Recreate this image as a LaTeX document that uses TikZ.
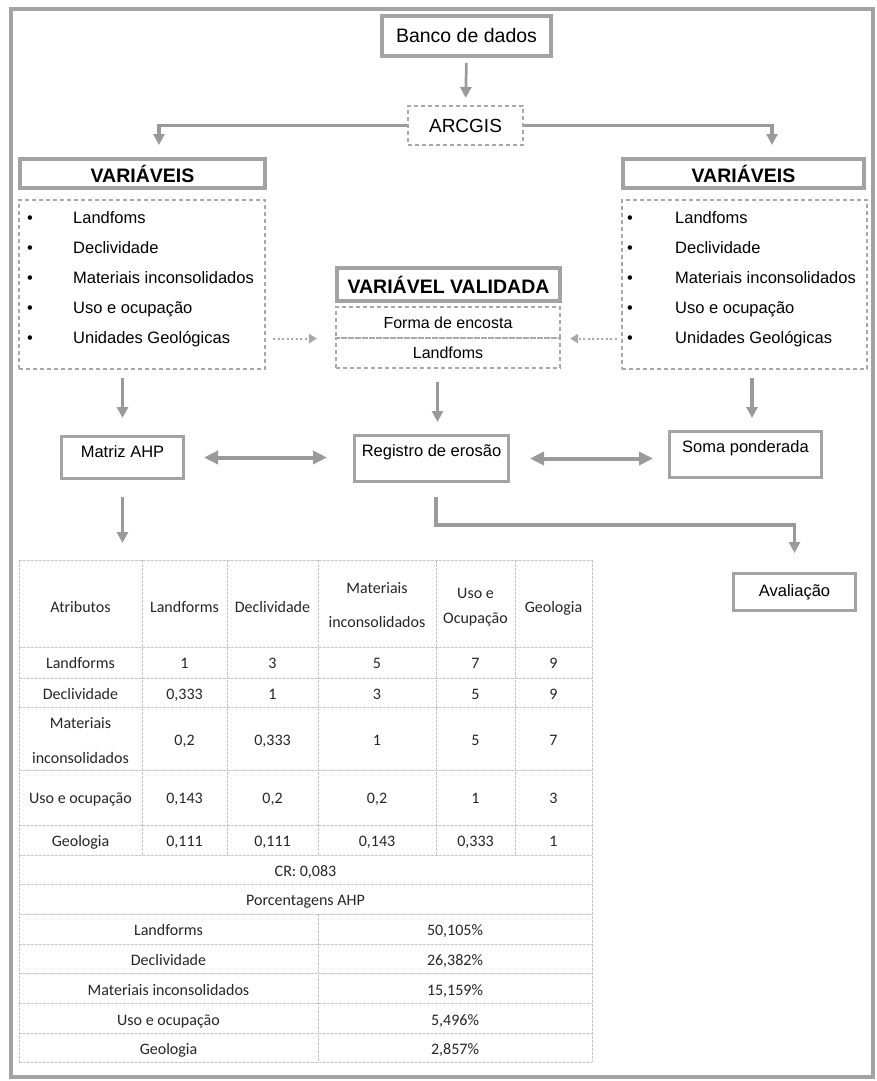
\documentclass[tikz,border=0pt]{standalone}
\usepackage{fontspec}
\setmainfont{Liberation Sans}
\newfontfamily\calib{Carlito}
\usetikzlibrary{arrows.meta,calc}
\definecolor{bgray}{HTML}{A3A3A3}
\definecolor{agray}{HTML}{9A9A9A}
\definecolor{dgray}{HTML}{A8A8A8}
\definecolor{tgray}{HTML}{C4C4C4}
\definecolor{tink}{HTML}{262626}
\newcommand{\tabvals}[7]{%
  \node[tt] (#1a) at (184.5,#2) {#3};
  \node[tt] (#1b) at (272.5,#2) {#4};
  \node[tt] (#1c) at (377,#2) {#5};
  \node[tt] (#1d) at (475.5,#2) {#6};
  \node[tt] (#1e) at (553.5,#2) {#7};}
\begin{document}
\begin{tikzpicture}[x=1pt,y=-1pt,
  tbox/.style={draw=bgray, line width=4pt, inner sep=0pt},
  mbox/.style={draw=bgray, line width=3pt, inner sep=0pt, font=\fontsize{16.5}{20}\selectfont},
  dbox/.style={draw=dgray, dash pattern=on 4pt off 3pt, line width=1.1pt, inner sep=0pt},
  arr/.style={draw=agray, line width=3pt, -{Triangle[length=11pt,width=11pt]}},
  darr/.style={draw=agray, line width=4pt, {Triangle[length=14pt,width=13pt]}-{Triangle[length=14pt,width=13pt]}},
  dotarr/.style={draw=dgray, line width=2pt, dash pattern=on 2pt off 2.5pt, -{Triangle[length=8pt,width=9pt]}},
  lst/.style={anchor=base west, inner sep=0pt, font=\fontsize{16.5}{20}\selectfont},
  bul/.style={anchor=base, inner sep=0pt, font=\fontsize{16.5}{20}\selectfont},
  tt/.style={anchor=base, inner sep=0pt, text=tink, font=\calib\fontsize{16}{20}\selectfont},
  gridl/.style={draw=tgray, line width=0.8pt, dash pattern=on 2.5pt off 1.5pt}]
\useasboundingbox (0,0) rectangle (877,1081);
\fill[white] (0,0) rectangle (877,1081);
\draw[draw=bgray, line width=4pt] (11,9) rectangle (873,1077);

% top
\node[tbox, minimum width=169pt, minimum height=40pt, font=\fontsize{19.5}{23}\selectfont] (banco) at (466.5,36) {Banco de dados};
\node[dbox, minimum width=115pt, minimum height=39pt, font=\fontsize{19}{23}\selectfont] (arc) at (465.5,125.5) {ARCGIS};
\node[tbox, minimum width=245pt, minimum height=29pt, font=\bfseries\fontsize{19.5}{23}\selectfont] (vl) at (142.5,173.5) {VARIÁVEIS};
\node[tbox, minimum width=241pt, minimum height=29pt, font=\bfseries\fontsize{19.5}{23}\selectfont] (vr) at (743.5,173.5) {VARIÁVEIS};

% lists
\node[dbox, minimum width=246pt, minimum height=169pt] (ll) at (142,284.5) {};
\node[dbox, minimum width=245pt, minimum height=169pt] (rl) at (744.5,284.5) {};
\foreach \t [count=\i] in {Landfoms, Declividade, Materiais inconsolidados, Uso e ocupação, Unidades Geológicas} {
  \node[bul] (lb\i) at (30,193+30*\i) {•};
  \node[lst] (lt\i) at (73,193+30*\i) {\t};
  \node[bul] (rb\i) at (630,193+30*\i) {•};
  \node[lst] (rt\i) at (675,193+30*\i) {\t};
}

% validated variable
\node[tbox, minimum width=223pt, minimum height=33pt, font=\bfseries\fontsize{19.5}{23}\selectfont] (val) at (448.5,284.5) {VARIÁVEL VALIDADA};
\node[dbox, minimum width=224pt, minimum height=31pt, font=\fontsize{16}{20}\selectfont] (f1) at (448,322.5) {Forma de encosta};
\node[dbox, minimum width=224pt, minimum height=30pt, font=\fontsize{16}{20}\selectfont] (f2) at (448,353) {Landfoms};

% middle boxes
\node[mbox, minimum width=122pt, minimum height=42pt, text height=12pt, text depth=12.5pt] (mat) at (122.5,457.5) {Matriz AHP};
\node[mbox, minimum width=154pt, minimum height=46pt, text height=12pt, text depth=16.5pt] (reg) at (431.5,458.5) {Registro de erosão};
\node[mbox, minimum width=152pt, minimum height=46pt, text height=12pt, text depth=16.5pt] (soma) at (745.5,454.5) {Soma ponderada};
\node[mbox, minimum width=122pt, minimum height=37pt] (aval) at (794.5,592) {Avaliação};

% connectors
\draw[arr, line width=2.7pt, shorten <=5pt, shorten >=7.5pt] (banco.south) -- (arc.north);
\draw[arr, line width=3.5pt] (arc.west) -| ([xshift=16.5pt,yshift=12pt]vl.north);
\draw[arr, line width=3.5pt] (arc.east) -| ([xshift=28.5pt,yshift=12pt]vr.north);
\draw[arr, line width=3.5pt, shorten <=8.5pt, shorten >=17pt] (mat.north |- ll.south) -- (mat.north);
\coordinate (rin) at ([xshift=6pt]reg.north);
\draw[arr, line width=3.5pt, shorten <=13.5pt, shorten >=12pt] (rin |- f2.south) -- (rin);
\coordinate (sin) at ([xshift=6.5pt]soma.north);
\draw[arr, line width=3.5pt, shorten <=8.5pt, shorten >=12pt] (sin |- rl.south) -- (sin);
\draw[darr, shorten <=19pt, shorten >=26pt] (mat.east) -- (mat.east -| reg.west);
\draw[darr, shorten <=20pt, shorten >=15pt] (reg.east) -- (reg.east -| soma.west);
\draw[dotarr, shorten <=7.5pt, shorten >=18.5pt] (ll.east |- f1.south) -- (f1.south -| f1.west);
\draw[dotarr, shorten <=4.5pt, shorten >=9.5pt] (rl.west |- f1.south) -- (f1.south -| f1.east);
\coordinate (tabtop) at (122.5,560);
\draw[arr, line width=3.5pt, shorten <=17pt, shorten >=17pt] (mat.south) -- (tabtop);
\coordinate (rout) at ([xshift=4.5pt]reg.south);
\draw[arr, line width=3.5pt, shorten <=14pt, shorten >=19pt] (rout) -- ++(0,42) -| (aval.north);

% table grid
\foreach \y in {560,647,678,707,770,825,855,884,914,944,973,1003,1033,1062}
  \draw[gridl] (19,\y) -- (592,\y);
\foreach \x in {19,592} \draw[gridl] (\x,560) -- (\x,1062);
\foreach \x in {142,227,318,436,515} \draw[gridl] (\x,560) -- (\x,855);
\draw[gridl] (318,914) -- (318,1062);

% table header
\node[tt] (h1) at (80.5,612) {Atributos};
\node[tt] (h2) at (184.5,612) {Landforms};
\node[tt] (h3) at (272.5,612) {Declividade};
\node[tt] (h4a) at (377,593) {Materiais};
\node[tt] (h4b) at (377,627) {inconsolidados};
\node[tt] (h5a) at (475.5,598) {Uso e};
\node[tt] (h5b) at (475.5,623) {Ocupação};
\node[tt] (h6) at (553.5,612) {Geologia};

% table rows
\node[tt] (r1l) at (80.5,668) {Landforms};
\tabvals{r1}{668}{1}{3}{5}{7}{9}
\node[tt] (r2l) at (80.5,699) {Declividade};
\tabvals{r2}{699}{0,333}{1}{3}{5}{9}
\node[tt] (r3la) at (80.5,728) {Materiais};
\node[tt] (r3lb) at (80.5,763) {inconsolidados};
\tabvals{r3}{745}{0,2}{0,333}{1}{5}{7}
\node[tt] (r4l) at (80.5,803) {Uso e ocupação};
\tabvals{r4}{803}{0,143}{0,2}{0,2}{1}{3}
\node[tt] (r5l) at (80.5,846) {Geologia};
\tabvals{r5}{846}{0,111}{0,111}{0,143}{0,333}{1}
\node[tt] (cr) at (305.5,876) {CR: 0,083};
\node[tt] (pahp) at (305.5,905) {Porcentagens AHP};
\node[tt] (p1l) at (168.5,935) {Landforms};
\node[tt] (p1v) at (455,935) {50,105\%};
\node[tt] (p2l) at (168.5,965) {Declividade};
\node[tt] (p2v) at (455,965) {26,382\%};
\node[tt] (p3l) at (168.5,995) {Materiais inconsolidados};
\node[tt] (p3v) at (455,995) {15,159\%};
\node[tt] (p4l) at (168.5,1025) {Uso e ocupação};
\node[tt] (p4v) at (455,1025) {5,496\%};
\node[tt] (p5l) at (168.5,1054) {Geologia};
\node[tt] (p5v) at (455,1054) {2,857\%};
\end{tikzpicture}
\end{document}
